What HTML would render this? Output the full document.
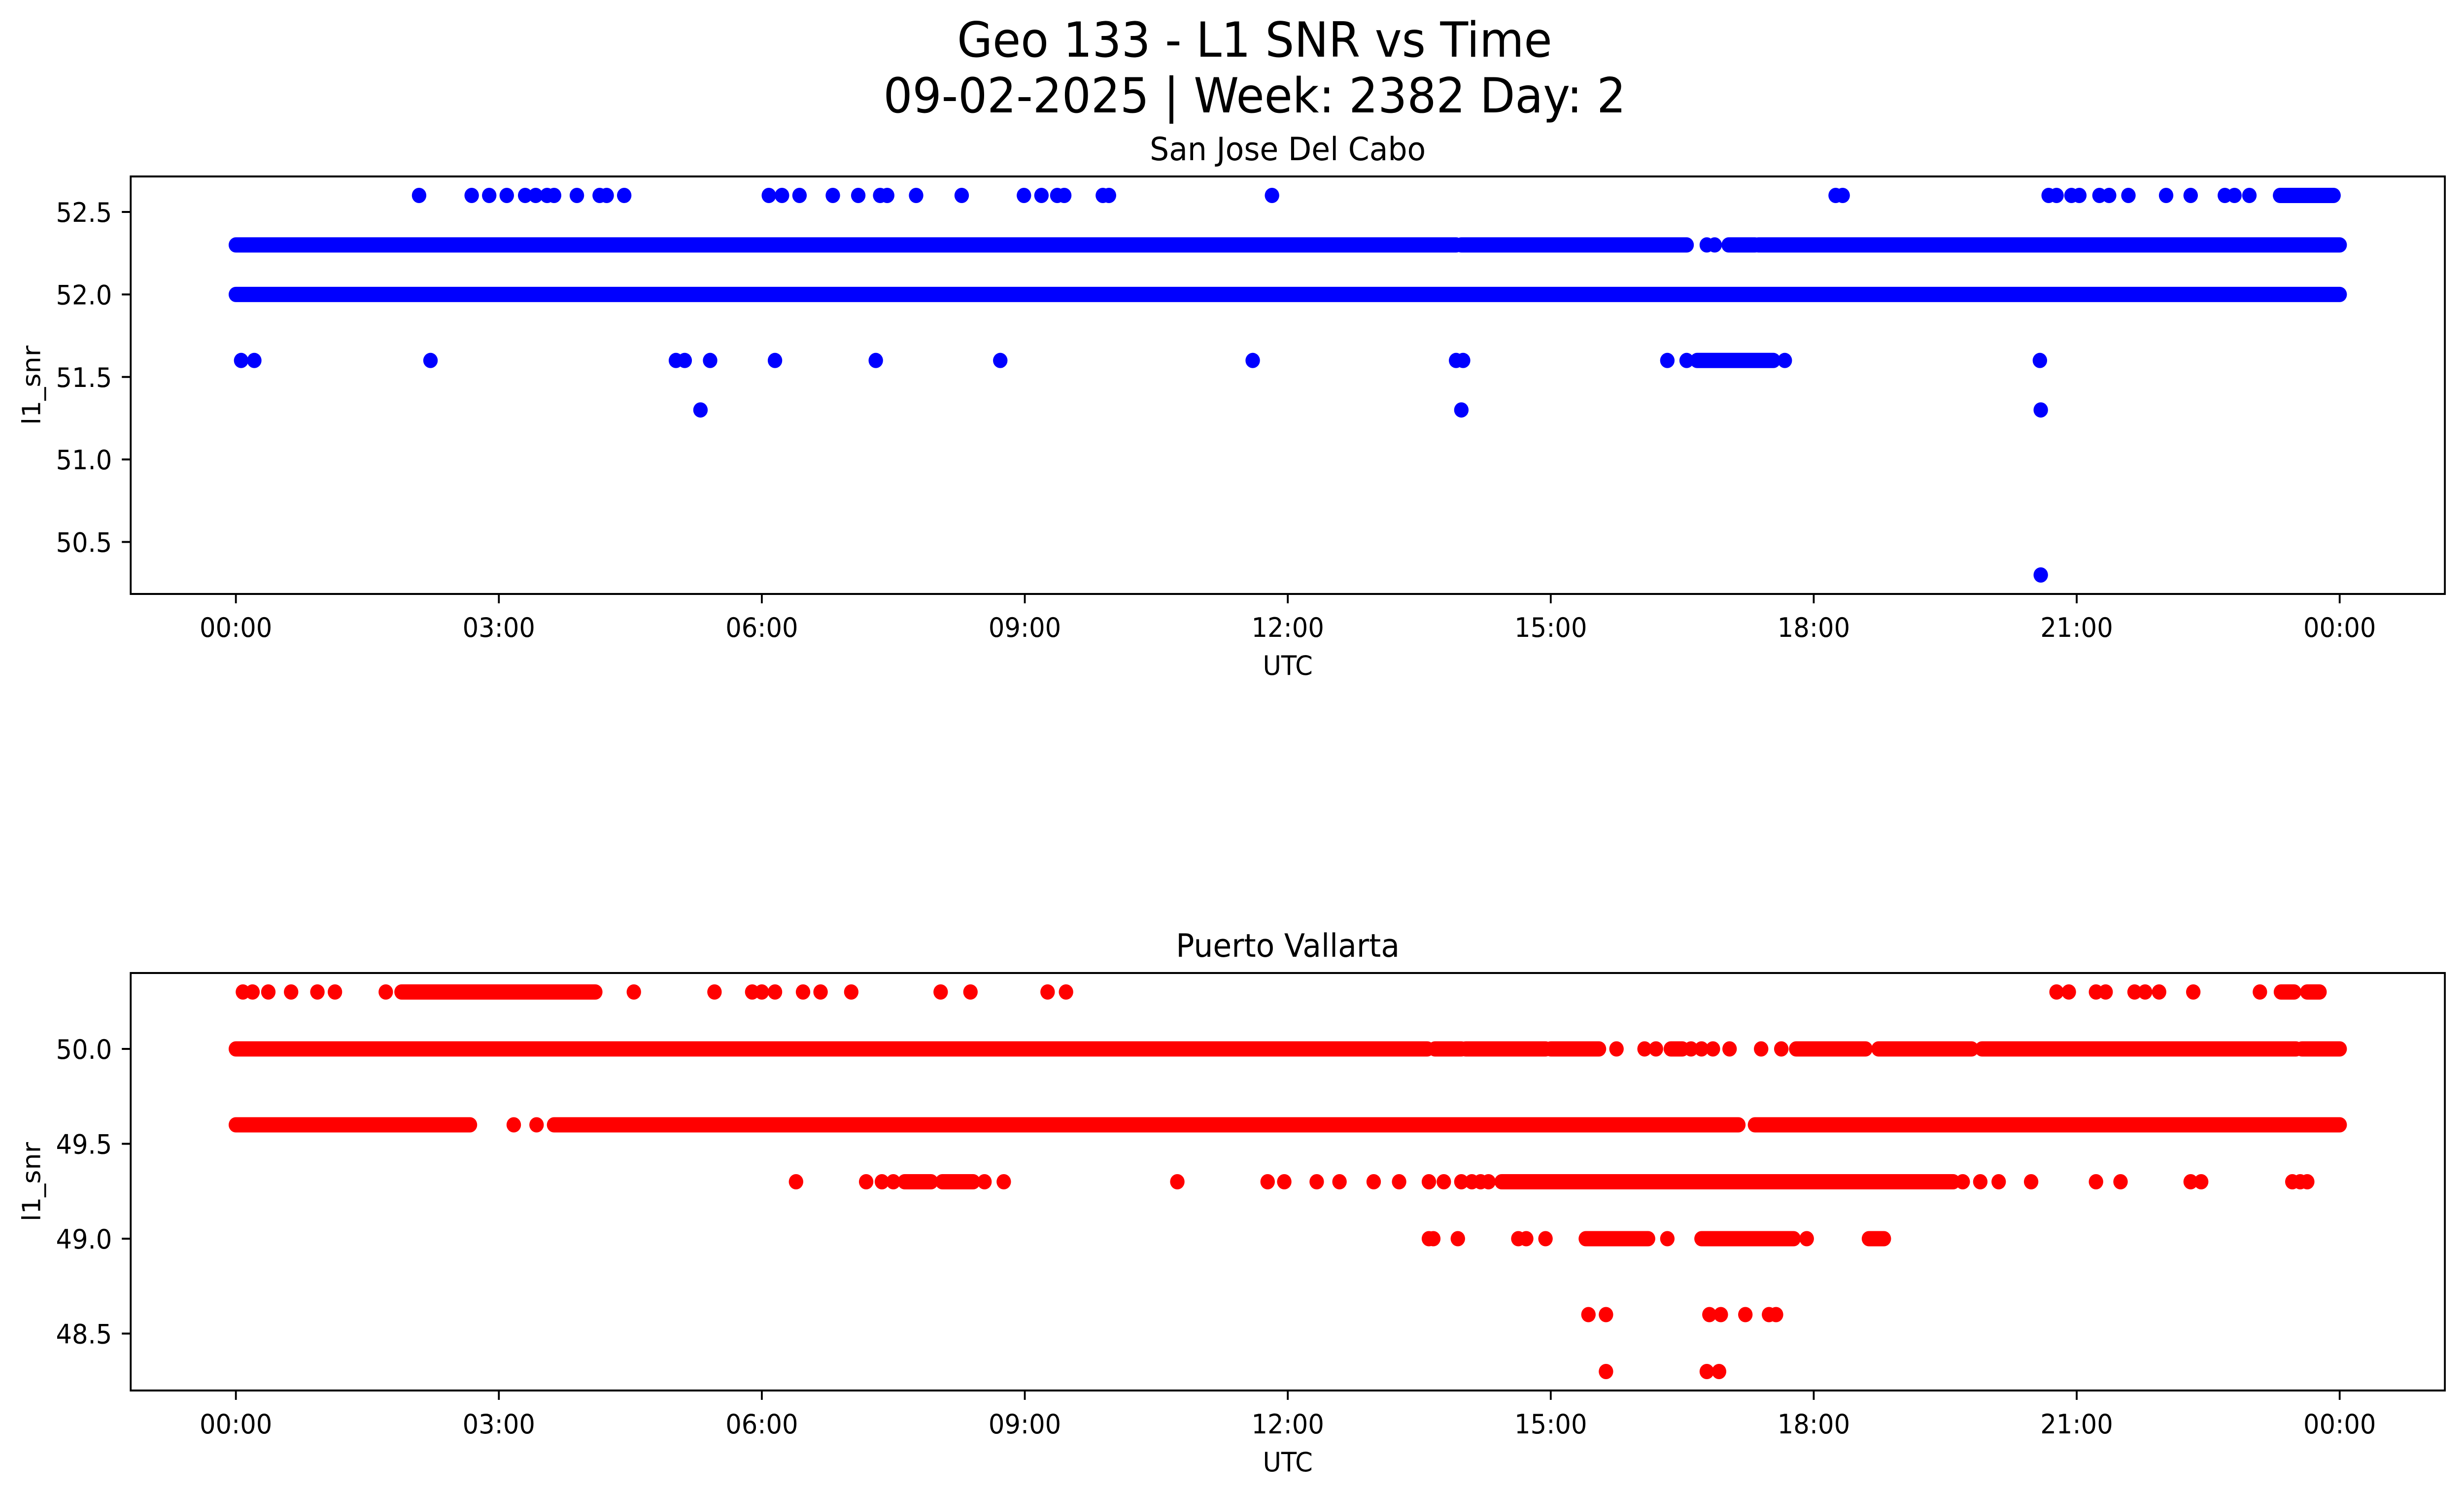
<!DOCTYPE html>
<html><head><meta charset="utf-8"><style>
html,body{margin:0;padding:0;background:#fff;overflow:hidden;width:100%;height:100%;}
svg{display:block;width:100vw;height:100vh;font-family:"DejaVu Sans","Liberation Sans",sans-serif;}
</style></head><body>
<svg id="fig" viewBox="0 0 5279 3033" preserveAspectRatio="none" xmlns="http://www.w3.org/2000/svg">
<rect width="5279" height="3033" fill="#fff"/>
<text x="2688" y="115" font-size="98" text-anchor="middle">Geo 133 - L1 SNR vs Time</text>
<text x="2688" y="228" font-size="98" text-anchor="middle">09-02-2025 | Week: 2382 Day: 2</text>
<g id="p1"></g>
<g id="p2"></g>
</svg>
<script>
// ---- data (hours UTC) ----
const xTickHours = [0,3,6,9,12,15,18,21,24];
const xTickLabels = ["00:00","03:00","06:00","09:00","12:00","15:00","18:00","21:00","00:00"];
const sjdYTicks = [50.5,51.0,51.5,52.0,52.5];
const pvYTicks = [48.5,49.0,49.5,50.0];

// San Jose Del Cabo: dense runs [snr, start, end]
const sjdRunSnr   = [52.3, 52.3, 52.3, 52.3, 52.0, 51.6, 52.6];
const sjdRunStart = [0, 13.98, 17.03, 17.37, 0, 16.67, 23.32];
const sjdRunEnd   = [13.92, 16.55, 17.33, 24, 24, 17.54, 23.93];
// San Jose isolated points
const sjdPtTime = [2.09,2.69,2.89,3.09,3.3,3.42,3.55,3.63,3.89,4.15,4.23,4.43,6.08,6.23,6.43,6.81,7.10,7.35,7.43,7.76,8.28,8.99,9.19,9.37,9.45,9.89,9.96,11.82,18.25,18.33,20.68,20.77,20.94,21.03,21.26,21.37,21.59,22.02,22.3,22.69,22.8,22.97,
  16.78,16.87,
  0.06,0.21,2.22,5.02,5.12,5.41,6.15,7.3,8.72,11.6,13.92,14.0,16.33,16.55,17.67,20.58,
  5.3,13.98,20.59,
  20.59];
const sjdPtSnr = [52.6,52.6,52.6,52.6,52.6,52.6,52.6,52.6,52.6,52.6,52.6,52.6,52.6,52.6,52.6,52.6,52.6,52.6,52.6,52.6,52.6,52.6,52.6,52.6,52.6,52.6,52.6,52.6,52.6,52.6,52.6,52.6,52.6,52.6,52.6,52.6,52.6,52.6,52.6,52.6,52.6,52.6,
  52.3,52.3,
  51.6,51.6,51.6,51.6,51.6,51.6,51.6,51.6,51.6,51.6,51.6,51.6,51.6,51.6,51.6,51.6,
  51.3,51.3,51.3,
  50.3];

// Puerto Vallarta dense runs
const pvRunSnr   = [50.3, 50.3, 50.3, 50.0,50.0,50.0,50.0,50.0,50.0,50.0,50.0,50.0, 49.6,49.6,49.6, 49.3,49.3,49.3, 49.0,49.0,49.0];
const pvRunStart = [1.89, 23.33, 23.63, 0,13.68,14.03,15.0,17.8,18.74,19.92,23.57,16.37, 0,3.63,17.33, 7.63,8.06,14.44, 15.4,16.72,18.63];
const pvRunEnd   = [4.1, 23.48, 23.77, 13.59,13.98,14.94,15.55,18.59,19.8,23.5,24,16.5, 2.67,17.14,24, 7.93,8.41,19.59, 16.11,17.77,18.8];
// Puerto Vallarta isolated points
const pvPtTime = [0.08,0.19,0.37,0.63,0.93,1.13,1.71,4.54,5.46,5.89,6.0,6.15,6.47,6.67,7.02,8.04,8.38,9.26,9.47,20.77,20.91,21.22,21.33,21.66,21.78,21.94,22.33,23.09,
  15.75,16.07,16.2,16.6,16.72,16.85,17.04,17.4,17.63,
  3.17,3.43,
  6.39,7.19,7.37,7.5,8.54,8.76,10.74,11.77,11.96,12.33,12.59,12.98,13.27,13.61,13.78,13.98,14.1,14.2,14.29,19.7,19.9,20.11,20.48,21.22,21.5,22.3,22.42,23.46,23.55,23.63,
  13.61,13.66,13.94,14.63,14.72,14.94,16.33,17.92,
  15.43,15.63,16.81,16.94,17.22,17.49,17.57,
  15.63,16.78,16.92];
const pvPtSnr = [50.3,50.3,50.3,50.3,50.3,50.3,50.3,50.3,50.3,50.3,50.3,50.3,50.3,50.3,50.3,50.3,50.3,50.3,50.3,50.3,50.3,50.3,50.3,50.3,50.3,50.3,50.3,50.3,
  50.0,50.0,50.0,50.0,50.0,50.0,50.0,50.0,50.0,
  49.6,49.6,
  49.3,49.3,49.3,49.3,49.3,49.3,49.3,49.3,49.3,49.3,49.3,49.3,49.3,49.3,49.3,49.3,49.3,49.3,49.3,49.3,49.3,49.3,49.3,49.3,49.3,49.3,49.3,49.3,49.3,49.3,
  49.0,49.0,49.0,49.0,49.0,49.0,49.0,49.0,
  48.6,48.6,48.6,48.6,48.6,48.6,48.6,
  48.3,48.3,48.3];

const NS="http://www.w3.org/2000/svg";
function mk(tag, attrs, parent){const e=document.createElementNS(NS,tag);for(const k in attrs)e.setAttribute(k,attrs[k]);parent.appendChild(e);return e;}

function panel(g, top, bottom, ymin, ymax, yTicks, title, color, runSnr, runStart, runEnd, ptTime, ptSnr, pfx){
  const L=280, R=5238, x0=-1.2, x1=25.2;
  const X=h=>L+(h-x0)/(x1-x0)*(R-L);
  const Y=v=>bottom-(v-ymin)/(ymax-ymin)*(bottom-top);
  const t=mk('text',{x:(L+R)/2,y:top-33,'font-size':65,'text-anchor':'middle'},g);
  
  
  t.textContent=title;
  const marks=mk('g',{},g);
  
  
  for(let i=0;i<runSnr.length;i++){
    const ln=mk('line',{x1:X(runStart[i]),x2:X(runEnd[i]),y1:Y(runSnr[i]),y2:Y(runSnr[i]),stroke:color,'stroke-width':31,'stroke-linecap':'round'},marks);
    
    
  }
  for(let i=0;i<ptTime.length;i++){
    const c=mk('circle',{cx:X(ptTime[i]),cy:Y(ptSnr[i]),r:15.5,fill:color},marks);
    
    
  }
  const fr=mk('rect',{x:L,y:top,width:R-L,height:bottom-top,fill:'none',stroke:'#000','stroke-width':4},g);
  
  
  for(let i=0;i<xTickHours.length;i++){
    const x=X(xTickHours[i]);
    const tk=mk('line',{x1:x,x2:x,y1:bottom,y2:bottom+19,stroke:'#000','stroke-width':4},g);
    
    
    const lb=mk('text',{x:x,y:bottom+87,'font-size':54,'text-anchor':'middle'},g);
    
    
    lb.textContent=xTickLabels[i];
  }
  for(let i=0;i<yTicks.length;i++){
    const y=Y(yTicks[i]);
    const tk=mk('line',{x1:L-19,x2:L,y1:y,y2:y,stroke:'#000','stroke-width':4},g);
    
    
    const lb=mk('text',{x:240,y:y+20,'font-size':54,'text-anchor':'end'},g);
    
    
    lb.textContent=yTicks[i].toFixed(1);
  }
  const xl=mk('text',{x:(L+R)/2,y:bottom+164,'font-size':54,'text-anchor':'middle'},g);
  
  
  xl.textContent='UTC';
  const cy=(top+bottom)/2;
  const yl=mk('text',{x:0,y:0,'font-size':54,'text-anchor':'middle',transform:`translate(86,${cy}) rotate(-90)`},g);
  
  
  yl.textContent='l1_snr';
}
panel(document.getElementById('p1'),358,1205,50.185,52.715,sjdYTicks,'San Jose Del Cabo','#0000ff',sjdRunSnr,sjdRunStart,sjdRunEnd,sjdPtTime,sjdPtSnr,'sjd');
panel(document.getElementById('p2'),1974,2821,48.2,50.4,pvYTicks,'Puerto Vallarta','#ff0000',pvRunSnr,pvRunStart,pvRunEnd,pvPtTime,pvPtSnr,'pv');
</script>
</body></html>
